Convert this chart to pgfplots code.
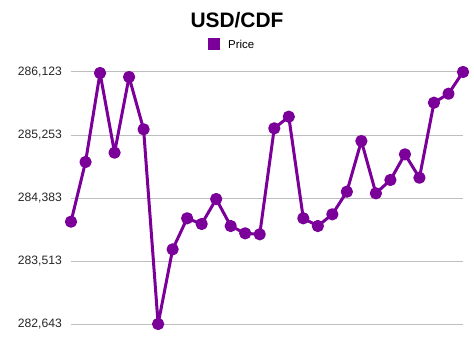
\documentclass[border=0pt]{standalone}
\usepackage{pgfplots}
\pgfplotsset{compat=1.18}
\usepackage{fontspec}
\setmainfont{Liberation Sans}
\definecolor{pur}{RGB}{123,0,153}
\definecolor{gridc}{RGB}{190,190,190}
\begin{document}
\begin{tikzpicture}[x=1bp,y=1bp]
\path[use as bounding box] (0,0) rectangle (474,355);
\begin{axis}[
  at={(71bp,31bp)}, anchor=south west,
  scale only axis, width=392bp, height=252bp,
  xmin=1, xmax=28, ymin=282643, ymax=286123,
  axis line style={draw=none},
  xtick=\empty,
  scaled y ticks=false,
  ytick={282643,283513,284383,285253,286123},
  yticklabels={282{,}643,283{,}513,284{,}383,285{,}253,286{,}123},
  ymajorgrids, major grid style={gridc, line width=1bp},
  major tick length=0pt,
  yticklabel style={font=\fontsize{12.2}{14}\selectfont, text=black!85, inner sep=0pt, xshift=-9bp},
  clip=false,
]
\addplot[pur, line width=3bp, line join=round, line cap=round, mark=*, mark size=4.6bp, mark options={solid, fill=pur, draw=none}] coordinates {
(1,284056) (2,284880) (3,286109) (4,285009) (5,286054) (6,285332) (7,282643)
(8,283674) (9,284103) (10,284024) (11,284369) (12,283996) (13,283895) (14,283882)
(15,285345) (16,285506) (17,284103) (18,283996) (19,284158) (20,284470) (21,285170)
(22,284448) (23,284632) (24,284986) (25,284663) (26,285699) (27,285823) (28,286123)
};
\end{axis}
\node[font=\bfseries\fontsize{21}{24}\selectfont, anchor=center] at (237,334.5) {USD/CDF};
\fill[pur] (208,305) rectangle (220,317);
\node[font=\fontsize{11.5}{13}\selectfont, anchor=west, inner sep=0pt] at (228,311) {Price};
\end{tikzpicture}
\end{document}
